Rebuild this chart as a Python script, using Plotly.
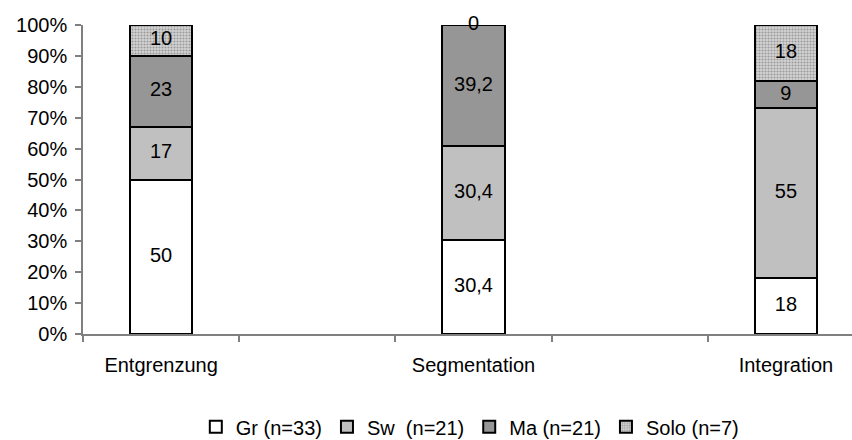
import plotly.graph_objects as go

categories = ["Entgrenzung", "Segmentation", "Integration"]
series_names = ["Gr (n=33)", "Sw  (n=21)", "Ma (n=21)", "Solo (n=7)"]
gr = [50, 30.4, 18]
sw = [17, 30.4, 55]
ma = [23, 39.2, 9]
solo = [10, 0, 18]
y_ticks = [0, 10, 20, 30, 40, 50, 60, 70, 80, 90, 100]

series = [gr, sw, ma, solo]
colors = ["#ffffff", "#c0c0c0", "#969696", "#cbcbcb"]

# category order with empty spacer slots between the groups
cat_order = []
for i, c in enumerate(categories):
    cat_order.append(c)
    if i < len(categories) - 1:
        cat_order.append(" " * (i + 1))

fig = go.Figure()
for k, (name, vals) in enumerate(zip(series_names, series)):
    marker = dict(color=colors[k], line=dict(color="black", width=2))
    if k == 3:
        marker["pattern"] = dict(shape=".", fgcolor="#9a9a9a", bgcolor="#d4d4d4",
                                 size=3, solidity=0.4, fillmode="replace")
    fig.add_trace(go.Bar(x=categories, y=vals, name=name, marker=marker,
                         width=0.4, hoverinfo="skip"))

def fmt(v):
    return ("%g" % v).replace(".", ",")

# labels at segment midpoints
lx, ly, lt = [], [], []
for j, c in enumerate(categories):
    base = 0
    for vals in series:
        v = vals[j]
        lx.append(c)
        ly.append(base + v / 2)
        lt.append(fmt(v))
        base += v
fig.add_trace(go.Scatter(x=lx, y=ly, text=lt, mode="text", showlegend=False,
                         textfont=dict(size=20, color="black"), hoverinfo="skip",
                         cliponaxis=False))

fig.update_layout(
    barmode="stack",
    width=852, height=440,
    margin=dict(l=83, r=0, t=25, b=106, autoexpand=False),
    paper_bgcolor="white", plot_bgcolor="white",
    font=dict(family="Liberation Sans, Arial, sans-serif", size=20, color="black"),
    showlegend=True,
    legend=dict(orientation="h", x=0.503, xanchor="center", y=-0.30, yanchor="middle",
                font=dict(size=20), itemwidth=30, traceorder="normal",
                tracegroupgap=0),
)
fig.update_xaxes(type="category", categoryorder="array", categoryarray=cat_order,
                 range=[-0.5, 4.423], showline=True, linecolor="#808080", linewidth=1.5,
                 ticks="outside", ticklen=6, tickcolor="#808080", tickwidth=1.5,
                 tickson="boundaries", showgrid=False, zeroline=False, automargin=False,
                 tickfont=dict(size=20), ticklabelstandoff=12)
fig.update_yaxes(range=[0, 100], tickvals=y_ticks,
                 ticktext=[f"{v}%" for v in y_ticks], showline=True,
                 linecolor="#808080", linewidth=1.5, ticks="outside", ticklen=6,
                 tickcolor="#808080", tickwidth=1.5, showgrid=False, zeroline=False,
                 automargin=False, tickfont=dict(size=20), ticklabelstandoff=4)

fig.write_html("out.html")
